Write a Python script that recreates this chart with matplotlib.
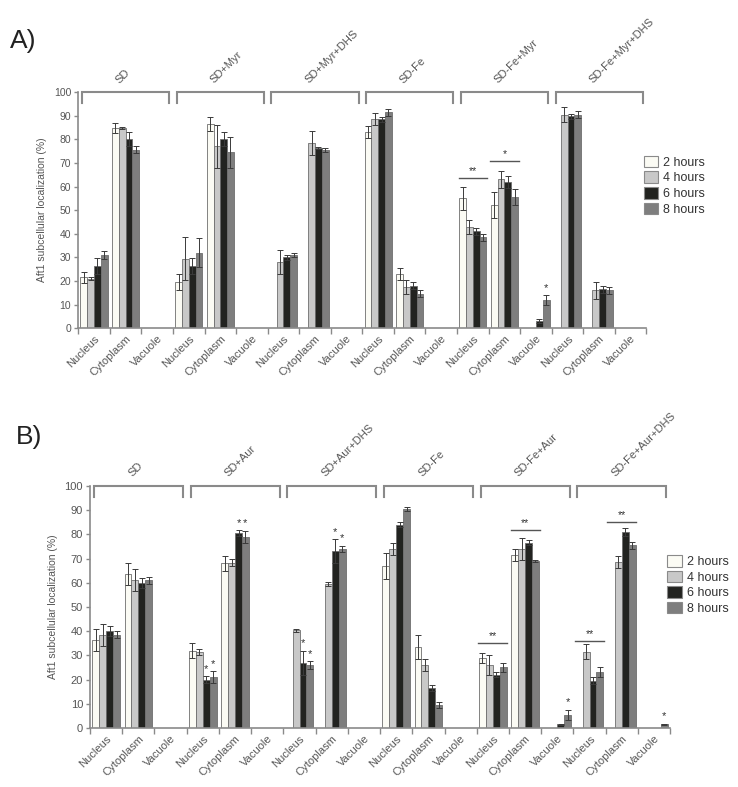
import numpy as np
import matplotlib
matplotlib.use('Agg')
import matplotlib.pyplot as plt
from matplotlib.patches import Patch

plt.rcParams['font.family'] = ['Liberation Sans', 'DejaVu Sans']

nan = np.nan

# categories
locations = ['Nucleus', 'Cytoplasm', 'Vacuole']
hours = ['2 hours', '4 hours', '6 hours', '8 hours']
groups_a = ['SD', 'SD+Myr', 'SD+Myr+DHS', 'SD-Fe', 'SD-Fe+Myr', 'SD-Fe+Myr+DHS']
groups_b = ['SD', 'SD+Aur', 'SD+Aur+DHS', 'SD-Fe', 'SD-Fe+Aur', 'SD-Fe+Aur+DHS']

# panel A values (18 categories: group x location)
a_2h = [21.5, 84.7, nan, 19.5, 86.5, nan, nan, nan, nan, 83.0, 23.0, nan, 55.0, 52.0, nan, nan, nan, nan]
a_2h_err = [2.5, 2.0, nan, 3.5, 3.0, nan, nan, nan, nan, 2.5, 2.5, nan, 5.0, 5.5, nan, nan, nan, nan]
a_4h = [21.0, 84.8, nan, 29.5, 77.0, nan, 28.0, 78.5, nan, 88.5, 17.5, nan, 43.0, 63.0, nan, 90.5, 16.0, nan]
a_4h_err = [0.7, 0.5, nan, 9.0, 9.0, nan, 5.0, 5.0, nan, 2.5, 3.0, nan, 3.0, 3.5, nan, 3.0, 3.5, nan]
a_6h = [26.3, 80.0, nan, 26.3, 80.0, nan, 30.0, 76.3, nan, 88.5, 18.0, nan, 41.0, 62.0, 3.0, 89.8, 16.5, nan]
a_6h_err = [3.5, 3.0, nan, 3.5, 3.0, nan, 1.0, 0.5, nan, 1.0, 1.5, nan, 1.5, 2.5, 0.7, 1.0, 1.5, nan]
a_8h = [31.0, 75.5, nan, 32.0, 74.5, nan, 31.0, 75.5, nan, 91.5, 14.5, nan, 38.5, 55.5, 12.0, 90.5, 16.0, nan]
a_8h_err = [1.8, 1.5, nan, 6.0, 6.5, nan, 1.0, 1.0, nan, 1.5, 1.5, nan, 1.5, 3.5, 2.0, 1.5, 1.5, nan]

# panel B values
b_2h = [36.5, 63.5, nan, 32.0, 68.0, nan, nan, nan, nan, 67.0, 33.5, nan, 29.0, 71.5, nan, nan, nan, nan]
b_2h_err = [4.5, 4.5, nan, 3.0, 3.0, nan, nan, nan, nan, 5.5, 5.0, nan, 2.0, 2.5, nan, nan, nan, nan]
b_4h = [38.5, 61.0, nan, 31.5, 68.3, nan, 40.3, 59.5, nan, 74.0, 26.0, nan, 26.0, 74.0, nan, 31.5, 68.5, nan]
b_4h_err = [4.5, 4.5, nan, 1.3, 1.5, nan, 0.8, 1.0, nan, 2.5, 2.5, nan, 4.0, 4.5, nan, 3.0, 2.5, nan]
b_6h = [40.0, 60.0, nan, 20.0, 80.5, nan, 27.0, 73.0, nan, 84.0, 16.5, nan, 22.0, 76.5, 1.5, 19.5, 81.0, nan]
b_6h_err = [2.0, 2.0, nan, 1.3, 1.2, nan, 5.0, 5.0, nan, 1.0, 1.2, nan, 1.0, 1.0, 0.3, 1.5, 1.5, nan]
b_8h = [38.5, 61.0, nan, 21.0, 79.0, nan, 26.0, 74.0, nan, 90.5, 9.5, nan, 25.0, 69.0, 5.5, 23.0, 75.5, 1.5]
b_8h_err = [1.5, 1.5, nan, 2.5, 2.5, nan, 1.5, 1.2, nan, 1.0, 1.2, nan, 2.0, 0.5, 2.0, 2.0, 1.5, 0.3]

# significance: single stars (category, series) and bars (category, height, label)
a_stars = [(14, 3)]
a_sig = [(12, 63.8, '**'), (13, 70.7, '*')]
b_stars = [(3, 2), (3, 3), (4, 2), (4, 3), (6, 2), (6, 3), (7, 2), (7, 3), (14, 3), (17, 3)]
b_sig = [(12, 35.0, '**'), (13, 81.7, '**'), (15, 36.1, '**'), (16, 85.2, '**')]

colors = ['#fbfbf4', '#c8c8c8', '#222320', '#7e7e7e']
axis_col = '#8a8a8a'
text_col = '#555555'

fig = plt.figure(figsize=(7.38, 7.87), dpi=100)


def panel(rect, groups, series, errs, stars, sig, tick_fs, leg_y, ylab_pad):
    ax = fig.add_axes(rect)
    ncat = len(groups) * len(locations)
    x = np.arange(ncat) + 0.5
    w = 0.215
    tops = {}
    for i, (vals, err) in enumerate(zip(series, errs)):
        vals = np.array(vals, dtype=float)
        err = np.array(err, dtype=float)
        xi = x + (i - 1.5) * w
        ok = ~np.isnan(vals)
        ax.bar(xi[ok], vals[ok], w, color=colors[i], edgecolor='#6e6e6e', linewidth=0.6, zorder=2)
        ax.errorbar(xi[ok], vals[ok], yerr=err[ok], fmt='none', ecolor='#3a3a3a',
                    elinewidth=0.7, capsize=2, capthick=0.7, zorder=3)
        for j in np.where(ok)[0]:
            tops[(j, i)] = (xi[j], vals[j] + err[j])
    for (j, i) in stars:
        xs, top = tops[(j, i)]
        ax.text(xs, top + 1.0, '*', ha='center', va='bottom', fontsize=8, color='#333333')
    for (j, h, lab) in sig:
        ax.plot([j + 0.05, j + 0.95], [h, h], color='#555555', lw=1.0, zorder=3)
        ax.text(j + 0.5, h + 0.8, lab, ha='center', va='bottom', fontsize=7.5, color='#333333')

    # group brackets and labels
    for g, name in enumerate(groups):
        x0, x1 = 3 * g + 0.12, 3 * g + 2.88
        ax.plot([x0, x0, x1, x1], [95.5, 100, 100, 95.5], color=axis_col, lw=1.5,
                clip_on=False, solid_joinstyle='miter')
        ax.text(3 * g + 1.5 - 0.15, 103, name, rotation=45, rotation_mode='anchor',
                ha='left', va='bottom', fontsize=8, color=text_col)

    ax.set_xlim(0, ncat)
    ax.set_ylim(0, 100)
    ax.set_yticks(np.arange(0, 101, 10))
    ax.set_xticks(np.arange(ncat + 1))
    ax.set_xticklabels([])
    ax.set_xticks(x, minor=True)
    ax.set_xticklabels(locations * len(groups), minor=True, rotation=45,
                       ha='right', rotation_mode='anchor', fontsize=8, color=text_col)
    ax.tick_params(axis='x', which='minor', length=0, pad=4)
    ax.tick_params(axis='x', which='major', length=4, width=1, color=axis_col)
    ax.tick_params(axis='y', length=3, width=1, color=axis_col, labelsize=tick_fs,
                   labelcolor=text_col, pad=2)
    for s in ['top', 'right']:
        ax.spines[s].set_visible(False)
    for s in ['left', 'bottom']:
        ax.spines[s].set_color(axis_col)
        ax.spines[s].set_linewidth(1.2)
    ax.set_ylabel('Aft1 subcellular localization (%)', fontsize=7.5, color=text_col,
                  labelpad=ylab_pad)

    handles = [Patch(facecolor=c, edgecolor='#8a8a8a', linewidth=0.8) for c in colors]
    ax.legend(handles, hours, loc='upper left', bbox_to_anchor=(0.995, leg_y),
              frameon=False, fontsize=9, handlelength=1.15, handleheight=1.05,
              handletextpad=0.4, labelspacing=0.2, borderpad=0, borderaxespad=0,
              labelcolor='#333333')
    return ax


panel([0.106, 0.583, 0.77, 0.30], groups_a,
      [a_2h, a_4h, a_6h, a_8h], [a_2h_err, a_4h_err, a_6h_err, a_8h_err],
      a_stars, a_sig, 7.5, 0.73, 5)
panel([0.122, 0.075, 0.786, 0.3075], groups_b,
      [b_2h, b_4h, b_6h, b_8h], [b_2h_err, b_4h_err, b_6h_err, b_8h_err],
      b_stars, b_sig, 8, 0.715, 5)

fig.text(0.014, 0.948, 'A)', fontsize=19, color='#222222', ha='left', va='center')
fig.text(0.022, 0.445, 'B)', fontsize=19, color='#222222', ha='left', va='center')

fig.savefig('out.png', dpi=100)
